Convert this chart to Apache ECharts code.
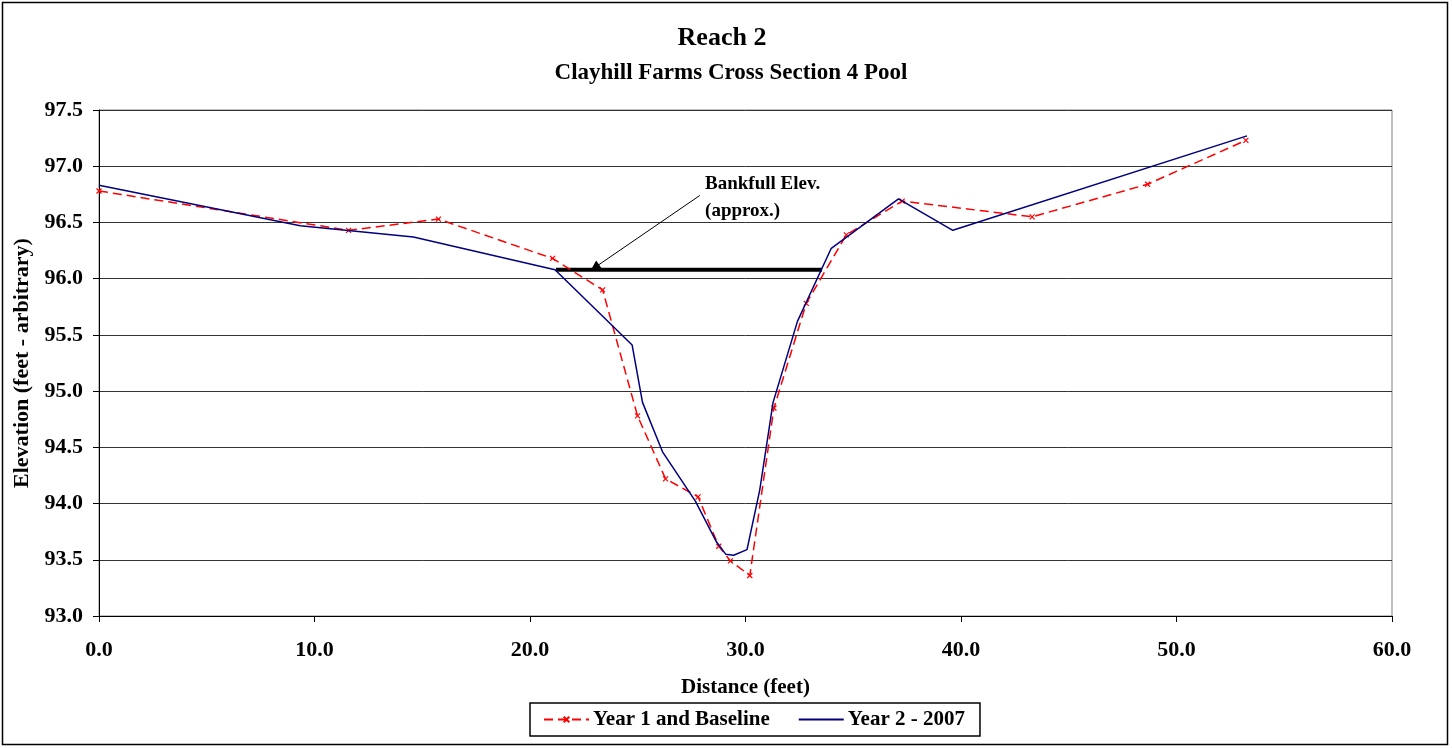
<!DOCTYPE html>
<html><head><meta charset="utf-8">
<script src="https://cdn.jsdelivr.net/npm/echarts@6/dist/echarts.min.js"></script>
<style>html,body{margin:0;padding:0;background:#fff}#c{width:1452px;height:748px}</style>
</head><body><div id="c"></div>
<script>
const year1X = [0, 11.58, 15.75, 21.05, 23.37, 24.99, 26.29, 27.80, 28.76, 29.30, 30.20, 31.32, 32.82, 34.68, 37.27, 43.30, 48.66, 53.22];
const year1Y = [96.78, 96.43, 96.53, 96.18, 95.90, 94.78, 94.22, 94.06, 93.62, 93.49, 93.36, 94.85, 95.78, 96.39, 96.69, 96.55, 96.84, 97.23];
const year2X = [0, 9.34, 14.59, 21.16, 24.74, 25.22, 26.15, 27.68, 28.65, 29.08, 29.45, 30.07, 30.66, 31.28, 32.41, 33.98, 37.10, 39.62, 53.27];
const year2Y = [96.83, 96.47, 96.37, 96.08, 95.41, 94.90, 94.46, 94.02, 93.66, 93.55, 93.54, 93.59, 94.12, 94.90, 95.62, 96.27, 96.71, 96.43, 97.27];
const bankfullX = [21.2, 33.55];
const bankfullElev = 96.08;
const arrowFrom = [27.88, 96.74];
const arrowTo = [23.01, 96.10];
const labelPos = [28.1, 96.72];

const F = '"Liberation Serif","Times New Roman",serif';
const chart = echarts.init(document.getElementById('c'), null, {renderer:'canvas'});
const pairs = (xs, ys) => xs.map((x, i) => [x, ys[i]]);
const xMark = 'path://M0,0L10,10M10,0L0,10';

chart.setOption({
  animation: false,
  backgroundColor: '#fff',
  title: [
    {text: 'Reach 2', left: 717, textAlign: 'center', top: 20, textStyle: {fontFamily: F, fontWeight: 'bold', fontSize: 26, color: '#000'}},
    {text: 'Clayhill Farms Cross Section 4 Pool', left: 726, textAlign: 'center', top: 57, textStyle: {fontFamily: F, fontWeight: 'bold', fontSize: 23, color: '#000'}}
  ],
  grid: {left: 99, top: 110, right: 60, bottom: 132, show: true, borderColor: '#808080', borderWidth: 1},
  legend: {
    left: 530, top: 703,
    padding: [6, 15, 6, 13],
    borderColor: '#000', borderWidth: 1.5,
    itemWidth: 45, itemHeight: 7, itemGap: 28,
    textStyle: {fontFamily: F, fontWeight: 'bold', fontSize: 21, color: '#000', padding: [0, 0, 0, -1]},
    data: [
      {name: 'Year 1 and Baseline'},
      {name: 'Year 2 - 2007', itemStyle: {color: 'rgba(0,0,0,0)', borderColor: 'rgba(0,0,0,0)', borderWidth: 0}}
    ]
  },
  xAxis: {
    type: 'value', min: 0, max: 60, interval: 10,
    name: 'Distance (feet)', nameLocation: 'middle', nameGap: 61,
    nameTextStyle: {fontFamily: F, fontWeight: 'bold', fontSize: 21, color: '#000'},
    axisLine: {show: true, onZero: false, lineStyle: {color: '#000', width: 1}},
    axisTick: {show: true, length: 6, lineStyle: {color: '#000'}},
    axisLabel: {fontFamily: F, fontWeight: 'bold', fontSize: 22, color: '#000', margin: 23, formatter: v => v.toFixed(1)},
    splitLine: {show: false}
  },
  yAxis: {
    type: 'value', min: 93, max: 97.5, interval: 0.5,
    name: 'Elevation (feet - arbitrary)', nameLocation: 'middle', nameGap: 60, nameRotate: 90,
    nameTextStyle: {fontFamily: F, fontWeight: 'bold', fontSize: 22, color: '#000'},
    axisLine: {show: true, onZero: false, lineStyle: {color: '#000', width: 1}},
    axisTick: {show: true, length: 6, lineStyle: {color: '#000'}},
    axisLabel: {fontFamily: F, fontWeight: 'bold', fontSize: 22, color: '#000', margin: 16, formatter: v => v.toFixed(1)},
    splitLine: {show: true, lineStyle: {color: '#333', width: 1}}
  },
  series: [
    {
      name: 'Year 1 and Baseline', type: 'line', data: pairs(year1X, year1Y),
      symbol: xMark, symbolSize: 5, showSymbol: true,
      itemStyle: {color: '#ff0000', borderColor: '#ff0000', borderWidth: 1.2},
      lineStyle: {color: '#ff0000', width: 1.5, type: [9, 5]},
      z: 3
    },
    {
      name: 'Year 2 - 2007', type: 'line', data: pairs(year2X, year2Y),
      symbol: 'none', itemStyle: {color: '#000080'},
      lineStyle: {color: '#000080', width: 1.5},
      z: 4
    },
    {
      name: 'bankfull', type: 'line', data: bankfullX.map(x => [x, bankfullElev]),
      symbol: 'none', lineStyle: {color: '#000', width: 4}, z: 2,
      markLine: {
        silent: true, symbol: ['none', 'triangle'], symbolSize: [10, 10],
        lineStyle: {color: '#000', width: 1, type: 'solid'},
        label: {show: false},
        data: [[{coord: arrowFrom}, {coord: arrowTo}]]
      },
      markPoint: {
        symbol: 'rect', symbolSize: 1, itemStyle: {color: 'transparent'},
        label: {show: true, position: 'right', distance: 0, fontFamily: F, fontWeight: 'bold', fontSize: 19, color: '#000', lineHeight: 27, align: 'left',
          formatter: 'Bankfull Elev.\n(approx.)'},
        data: [{coord: labelPos}]
      }
    }
  ],
  graphic: [
    {type: 'rect', shape: {x: 2.5, y: 2.5, width: 1445, height: 742}, style: {fill: 'none', stroke: '#000', lineWidth: 1.5}, silent: true, z: -1}
  ]
});
</script></body></html>
